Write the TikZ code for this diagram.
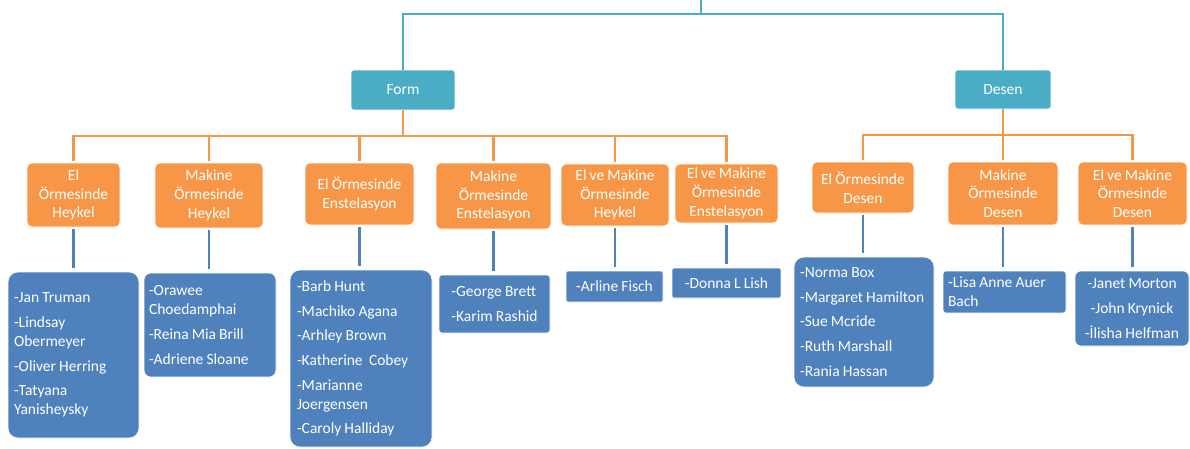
\documentclass[tikz,border=0pt]{standalone}
\usepackage{fontspec}
\setmainfont{Carlito}[WordSpace=0.9]
\definecolor{tealc}{HTML}{4BACC6}
\definecolor{orangec}{HTML}{F79646}
\definecolor{bluec}{HTML}{4F81BD}
\begin{document}
\begin{tikzpicture}[x=1pt,y=-1pt,
  font=\fontsize{15.5}{18.7}\selectfont,
  tealbox/.style={fill=tealc, draw=white, line width=0.6pt, text=white, rounded corners=3pt, inner sep=0pt, align=center},
  orangebox/.style={fill=orangec, draw=white, line width=0.6pt, text=white, rounded corners=5pt, inner sep=0pt, align=center},
  leafbox/.style={fill=bluec, draw=white, line width=0.6pt, text=white, inner ysep=0pt},
  tline/.style={draw=tealc, line width=2.2pt},
  oline/.style={draw=orangec, line width=2.2pt},
  bline/.style={draw=bluec, line width=2.2pt, shorten <=2pt, shorten >=4pt}]
\useasboundingbox (0,0) rectangle (1190,448);

% level 1
\node[tealbox, minimum width=104pt, minimum height=40pt] (form) at (403,90) {Form};
\node[tealbox, minimum width=96pt, minimum height=39pt] (desen) at (1003,89.5) {Desen};

% level 2
\node[orangebox, minimum width=93pt, minimum height=64pt] (o1) at (73.5,195) {El\\Örmesinde\\Heykel};
\node[orangebox, minimum width=108pt, minimum height=65pt] (o2) at (209,195.5) {Makine\\Örmesinde\\Heykel};
\node[orangebox, minimum width=109pt, minimum height=62pt] (o3) at (359.5,194) {El Örmesinde\\Enstelasyon};
\node[orangebox, minimum width=115pt, minimum height=66pt] (o4) at (493.5,196) {Makine\\Örmesinde\\Enstelasyon};
\node[orangebox, minimum width=108pt, minimum height=62pt] (o5) at (615,195) {El ve Makine\\Örmesinde\\Heykel};
\node[orangebox, minimum width=103pt, minimum height=59pt] (o6) at (726.5,193.5) {El ve Makine\\Örmesinde\\Enstelasyon};
\node[orangebox, minimum width=102pt, minimum height=51pt] (o7) at (863,187.5) {El Örmesinde\\Desen};
\node[orangebox, minimum width=110pt, minimum height=63pt] (o8) at (1003,193.5) {Makine\\Örmesinde\\Desen};
\node[orangebox, minimum width=109pt, minimum height=63pt] (o9) at (1132.5,193.5) {El ve Makine\\Örmesinde\\Desen};

% leaves
\node[leafbox, rounded corners=10pt, inner xsep=6pt, text width=119pt, align=flush left, minimum height=166pt] (L1) at (73.5,355)
  {-Jan Truman\\[6pt]-Lindsay\\Obermeyer\\[6pt]-Oliver Herring\\[6pt]-Tatyana\\Yanisheysky};
\node[leafbox, rounded corners=7pt, inner xsep=5pt, text width=122pt, align=flush left, minimum height=104pt] (L2) at (210,325)
  {-Orawee\\Choedamphai\\[6pt]-Reina Mia Brill\\[6pt]-Adriene Sloane};
\node[leafbox, rounded corners=10pt, inner xsep=7pt, text width=128pt, align=flush left, minimum height=177pt] (L3) at (361,358.5)
  {-Barb Hunt\\[6pt]-Machiko Agana\\[6pt]-Arhley Brown\\[6pt]-Katherine\ \ Cobey\\[6pt]-Marianne\\Joergensen\\[6pt]-Caroly Halliday};
\node[leafbox, rounded corners=3pt, inner xsep=0pt, align=left, minimum width=111pt, minimum height=58pt] (L4) at (494.5,304)
  {-George Brett\\[6pt]-Karim Rashid};
\node[leafbox, rounded corners=2pt, inner xsep=0pt, align=center, minimum width=97pt, minimum height=31pt] (L5) at (614.5,286.5)
  {-Arline Fisch};
\node[leafbox, rounded corners=2pt, inner xsep=0pt, align=center, minimum width=109pt, minimum height=30pt] (L6) at (726.5,283)
  {-Donna L Lish};
\node[leafbox, rounded corners=10pt, inner xsep=6pt, text width=128pt, align=flush left, minimum height=130pt] (L7) at (864,322)
  {-Norma Box\\[6pt]-Margaret Hamilton\\[6pt]-Sue Mcride\\[6pt]-Ruth Marshall\\[6pt]-Rania Hassan};
\node[leafbox, rounded corners=3pt, inner xsep=5pt, text width=113pt, align=flush left, minimum height=42pt] (L8) at (1004.5,292)
  {-Lisa Anne Auer\\Bach};
\node[leafbox, rounded corners=6pt, inner xsep=0pt, align=center, minimum width=114pt, minimum height=75pt] (L9) at (1132,308.5)
  {-Janet Morton\\[6pt]-John Krynick\\[6pt]-İlisha Helfman};

% top connectors
\coordinate (top) at (701,0);
\coordinate (tj) at (701,14);
\draw[tline] (top) -- (tj);
\draw[tline, line join=miter] (form.north) |- (tj) -| (desen.north);

% orange connectors
\coordinate (fj) at (403,136);
\coordinate (dj) at (1003,135);
\draw[oline] (form.south) -- (fj);
\draw[oline] (desen.south) -- (dj);
\draw[oline, line cap=rect] (fj -| o1.north) -- (fj -| o6.north);
\draw[oline, line cap=rect] (dj -| o7.north) -- (dj -| o9.north);
\foreach \o in {o1,o2,o3,o4,o5,o6}{
  \draw[oline, shorten >=2pt] (fj -| \o.north) -- (\o.north);
}
\foreach \o in {o7,o8,o9}{
  \draw[oline, shorten >=2pt] (dj -| \o.north) -- (\o.north);
}

% leaf connectors
\draw[bline] (o1.south) -- (o1.south |- L1.north);
\draw[bline] (o2.south) -- (o2.south |- L2.north);
\draw[bline] (o3.south) -- (o3.south |- L3.north);
\draw[bline] (o4.south) -- (o4.south |- L4.north);
\draw[bline] (o5.south) -- (o5.south |- L5.north);
\draw[bline] (o6.south) -- (o6.south |- L6.north);
\draw[bline] (o7.south) -- (o7.south |- L7.north);
\draw[bline] (o8.south) -- (o8.south |- L8.north);
\draw[bline] (o9.south) -- (o9.south |- L9.north);
\end{tikzpicture}
\end{document}
